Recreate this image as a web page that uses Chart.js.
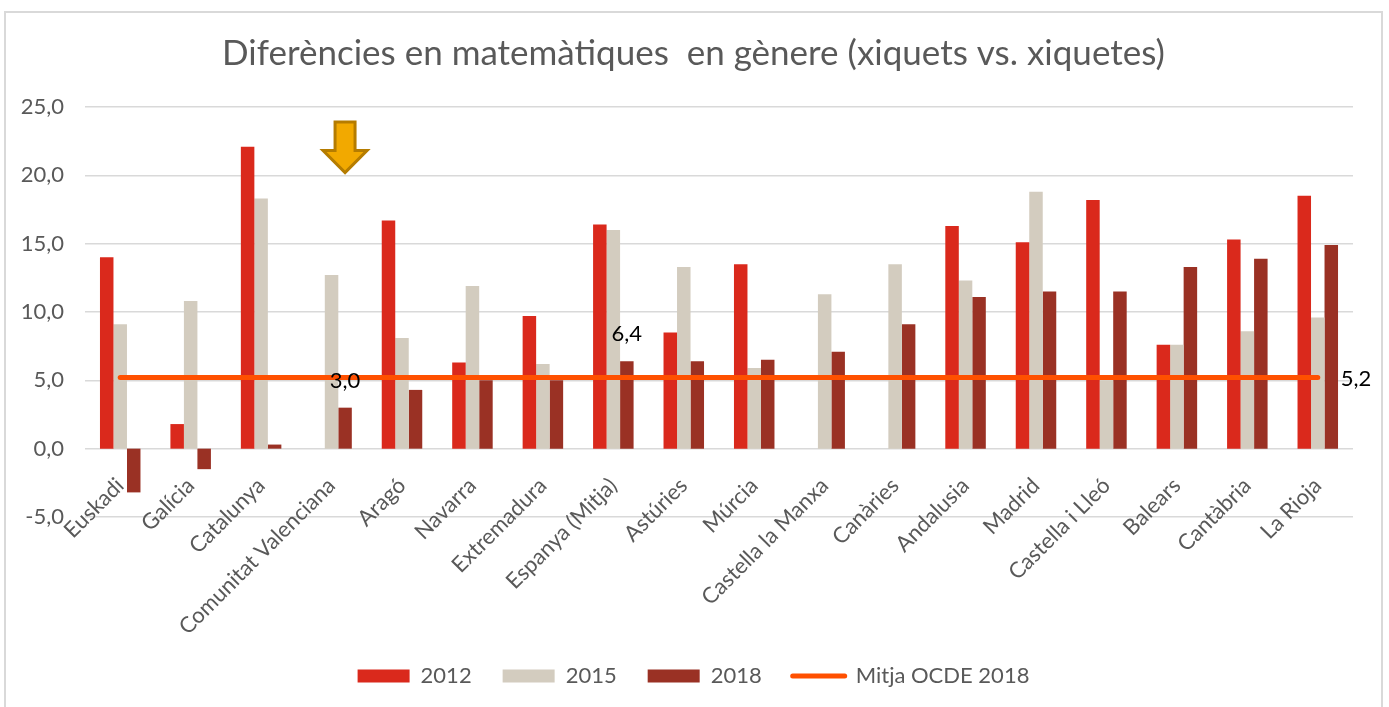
<!DOCTYPE html>
<html>
<head>
<meta charset="utf-8">
<title>Diferències en matemàtiques en gènere</title>
<script src="https://cdn.jsdelivr.net/npm/chart.js@4.4.1/dist/chart.umd.min.js"></script>
<style>
  html, body { margin: 0; padding: 0; background: #fff; overflow: hidden; }
  #frame { position: absolute; left: 4px; top: 11px; width: 1375px; height: 696px; border: 2px solid #d9d9d9; }
</style>
</head>
<body>
<div id="frame"><canvas id="chart"></canvas></div>
<script>
// categories (sorted by the 2018 gap)
const regions = ['Euskadi', 'Galícia', 'Catalunya', 'Comunitat Valenciana', 'Aragó', 'Navarra',
  'Extremadura', 'Espanya (Mitja)', 'Astúries', 'Múrcia', 'Castella la Manxa', 'Canàries',
  'Andalusia', 'Madrid', 'Castella i Lleó', 'Balears', 'Cantàbria', 'La Rioja'];

const values2012 = [14.0, 1.8, 22.1, null, 16.7, 6.3, 9.7, 16.4, 8.5, 13.5, null, null, 16.3, 15.1, 18.2, 7.6, 15.3, 18.5];
const values2015 = [9.1, 10.8, 18.3, 12.7, 8.1, 11.9, 6.2, 16.0, 13.3, 5.9, 11.3, 13.5, 12.3, 18.8, 5.0, 7.6, 8.6, 9.6];
const values2018 = [-3.2, -1.5, 0.3, 3.0, 4.3, 5.0, 5.0, 6.4, 6.4, 6.5, 7.1, 9.1, 11.1, 11.5, 11.5, 13.3, 13.9, 14.9];
const ocdeMean2018 = [5.2, 5.2, 5.2, 5.2, 5.2, 5.2, 5.2, 5.2, 5.2, 5.2, 5.2, 5.2, 5.2, 5.2, 5.2, 5.2, 5.2, 5.2];

const yTicks = [-5, 0, 5, 10, 15, 20, 25];

// regions whose 2018 value gets a label, and the one pointed at by the arrow
const labelled2018 = ['Comunitat Valenciana', 'Espanya (Mitja)'];
const arrowRegion = 'Comunitat Valenciana';
const arrowFrom = 23.9, arrowTo = 20.2;

const FONT = 'Lato, "Open Sans", sans-serif';
const GREY = '#595959';

const fmt = (v) => v.toFixed(1).replace('.', ',');

// black value labels: two 2018 bars + the end of the OCDE line
const valueLabels = {
  id: 'valueLabels',
  afterDatasetsDraw(chart) {
    const { ctx } = chart;
    ctx.save();
    ctx.fillStyle = '#000';
    ctx.font = '22px ' + FONT;
    ctx.textBaseline = 'middle';

    const bars = chart.getDatasetMeta(2).data;
    ctx.textAlign = 'center';
    labelled2018.forEach((name) => {
      const i = regions.indexOf(name);
      ctx.fillText(fmt(values2018[i]), bars[i].x, bars[i].y - 27);
    });

    const pts = chart.getDatasetMeta(3).data;
    const last = pts[pts.length - 1];
    ctx.textAlign = 'left';
    ctx.fillText(fmt(ocdeMean2018[ocdeMean2018.length - 1]), last.x + 23, last.y + 1);
    ctx.restore();
  }
};

// orange down arrow above the Valencian 2018 bar
const arrowMarker = {
  id: 'arrowMarker',
  afterDatasetsDraw(chart) {
    const { ctx } = chart;
    const bar = chart.getDatasetMeta(2).data[regions.indexOf(arrowRegion)];
    const y = chart.scales.y;
    const x = bar.x;
    const top = y.getPixelForValue(arrowFrom);
    const tip = y.getPixelForValue(arrowTo);
    const neck = tip - 22;
    const sw = 10, hw = 22;
    ctx.save();
    ctx.beginPath();
    ctx.moveTo(x - sw, top);
    ctx.lineTo(x + sw, top);
    ctx.lineTo(x + sw, neck);
    ctx.lineTo(x + hw, neck);
    ctx.lineTo(x, tip);
    ctx.lineTo(x - hw, neck);
    ctx.lineTo(x - sw, neck);
    ctx.closePath();
    ctx.fillStyle = '#F2A900';
    ctx.fill();
    ctx.lineWidth = 3;
    ctx.lineJoin = 'miter';
    ctx.strokeStyle = '#B57C00';
    ctx.stroke();
    ctx.restore();
  }
};

const ctx = document.getElementById('chart').getContext('2d');

new Chart(ctx, {
  data: {
    labels: regions,
    datasets: [
      { type: 'bar', label: '2012', data: values2012, backgroundColor: '#DA291C', order: 1 },
      { type: 'bar', label: '2015', data: values2015, backgroundColor: '#D3CCBF', order: 1 },
      { type: 'bar', label: '2018', data: values2018, backgroundColor: '#9A3124', order: 1 },
      {
        type: 'line', label: 'Mitja OCDE 2018', data: ocdeMean2018,
        borderColor: '#FF5000', backgroundColor: '#FF5000', borderWidth: 5,
        borderCapStyle: 'round', pointRadius: 0, order: 0
      }
    ]
  },
  options: {
    responsive: true,
    maintainAspectRatio: false,
    animation: false,
    datasets: { bar: { categoryPercentage: 0.575, barPercentage: 1 } },
    layout: { padding: { left: 0, right: 0, top: 0, bottom: 12 } },
    scales: {
      // category axis sits on the 0 line, like the original
      x: {
        position: { y: 0 },
        grid: { display: false, drawTicks: false },
        border: { display: false },
        ticks: {
          color: GREY, font: { family: FONT, size: 22 },
          autoSkip: false, minRotation: 45, maxRotation: 45, padding: 24
        }
      },
      // empty axes that only reserve room (rotated labels below, margin at right)
      xSpace: {
        type: 'category',
        position: 'bottom',
        grid: { display: false, drawTicks: false },
        border: { display: false },
        ticks: { display: false },
        afterFit(scale) { scale.height = 117; }
      },
      ySpace: {
        type: 'linear',
        position: 'right',
        grid: { display: false, drawTicks: false },
        border: { display: false },
        ticks: { display: false },
        afterFit(scale) { scale.width = 28; }
      },
      y: {
        min: -5, max: 25,
        afterBuildTicks(scale) { scale.ticks = yTicks.map(v => ({ value: v })); },
        grid: { color: '#d9d9d9', lineWidth: 1.5, drawTicks: false },
        border: { display: false },
        ticks: { color: GREY, font: { family: FONT, size: 22 }, padding: 21, callback: (v) => fmt(v) },
        afterFit(scale) { scale.width = 79; }
      }
    },
    plugins: {
      title: {
        display: true,
        text: 'Diferències en matemàtiques  en gènere (xiquets vs. xiquetes)',
        color: GREY,
        font: { family: FONT, size: 35, weight: 'normal' },
        padding: { top: 20, bottom: 32 }
      },
      legend: {
        position: 'bottom',
        labels: {
          color: GREY,
          font: { family: FONT, size: 22 },
          usePointStyle: true,
          pointStyleWidth: 52,
          boxHeight: 13,
          padding: 31,
          sort: (a, b) => a.datasetIndex - b.datasetIndex,
          generateLabels(chart) {
            const items = Chart.defaults.plugins.legend.labels.generateLabels(chart);
            items.forEach((it) => {
              const ds = chart.data.datasets[it.datasetIndex];
              if (ds.type === 'line') {
                it.pointStyle = 'line';
                it.lineWidth = 5;
                it.strokeStyle = ds.borderColor;
                it.lineCap = 'round';
              } else {
                it.pointStyle = 'rect';
                it.lineWidth = 0;
              }
            });
            return items;
          }
        }
      },
      tooltip: { enabled: false }
    }
  },
  plugins: [valueLabels, arrowMarker]
});
</script>
</body>
</html>
